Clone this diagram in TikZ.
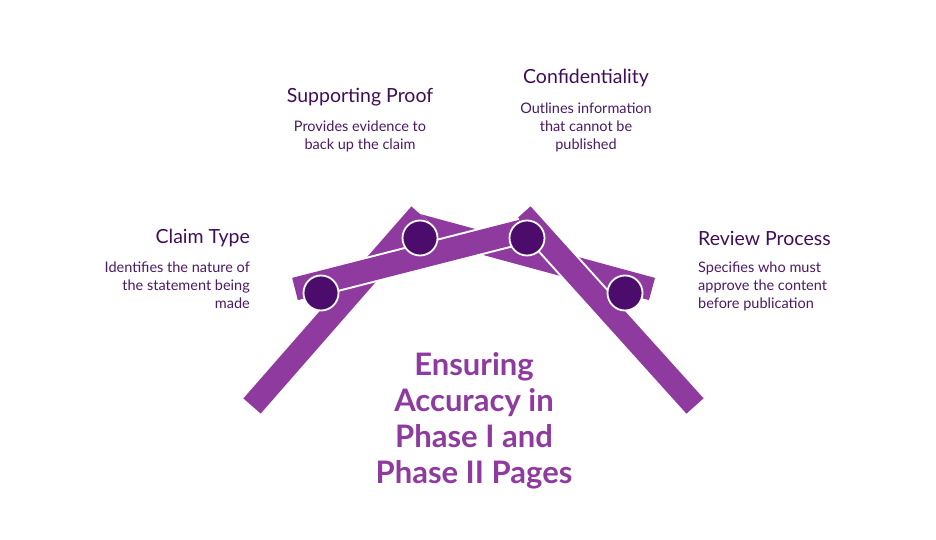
\documentclass[tikz,border=0pt]{standalone}
\usepackage{fontspec}
\setmainfont{Lato}
\definecolor{barpurple}{HTML}{8F3A9F}
\definecolor{dotpurple}{HTML}{4B0C6C}
\definecolor{headtext}{HTML}{3F0E57}
\definecolor{bodytext}{HTML}{4A1A63}
\begin{document}
\begin{tikzpicture}[x=1pt,y=-1pt]
	\tikzstyle{bar} = [line width=23pt, draw=barpurple, line cap=butt];
	\tikzstyle{edge} = [line width=27pt, draw=white, line cap=butt];
	\tikzstyle{dot} = [draw=white, line width=1.8pt, fill=dotpurple, circle, minimum size=35pt, inner sep=0pt];
	\tikzstyle{head} = [font={\fontsize{19.5}{22}\selectfont}, text=headtext, inner sep=0pt];
	\tikzstyle{desc} = [font={\fontsize{14.5}{18}\selectfont}, text=bodytext, inner sep=0pt];

	\useasboundingbox (0,0) rectangle (936,540);

	\coordinate (a1) at (252,406);
	\coordinate (a2) at (420,214);
	\coordinate (b1) at (295,289);
	\coordinate (b2) at (522,231);
	\coordinate (c1) at (402,221);
	\coordinate (c2) at (652,289);
	\coordinate (d1) at (522,214);
	\coordinate (d2) at (695,406);

	% bars, back to front
	\foreach \p in {c, a, d, b} {
		\draw[edge] (\p1) -- (\p2);
		\draw[bar] (\p1) -- (\p2);
	}

	\node[dot] (claim) at (321,293) {};
	\node[dot] (proof) at (420,238) {};
	\node[dot] (conf) at (527,238) {};
	\node[dot] (review) at (625,293) {};

	\node[head, anchor=east] (claimH) at (250,238) {Claim Type};
	\node[desc, anchor=north east, align=right] (claimD) at (250,262) {Identifies the nature of\\the statement being\\made};

	\node[head] (proofH) at (360,97) {Supporting Proof};
	\node[desc, anchor=north, align=center] (proofD) at (360,121) {Provides evidence to\\back up the claim};

	\node[head] (confH) at (586,78) {Confidentiality};
	\node[desc, anchor=north, align=center] (confD) at (586,103) {Outlines information\\that cannot be\\published};

	\node[head, anchor=west] (reviewH) at (698,238) {Review Process};
	\node[desc, anchor=north west, align=left] (reviewD) at (698,262) {Specifies who must\\approve the content\\before publication};

	\node[font={\fontsize{31}{36}\selectfont\bfseries}, text=barpurple, align=center, anchor=north] (title) at (474,349) {Ensuring\\Accuracy in\\Phase I and\\Phase II Pages};
\end{tikzpicture}
\end{document}
